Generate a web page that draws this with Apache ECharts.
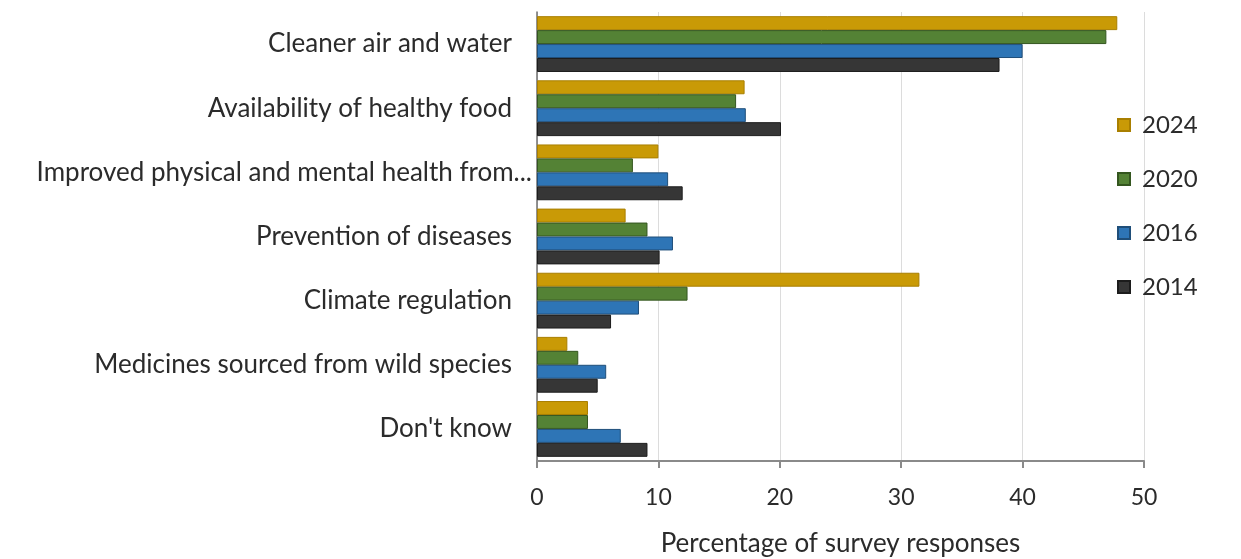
<!DOCTYPE html>
<html>
<head>
<meta charset="utf-8">
<script src="https://cdn.jsdelivr.net/npm/echarts@6/dist/echarts.min.js"></script>
<style>
  html, body { margin: 0; padding: 0; background: #ffffff; }
  #chart { width: 1241px; height: 559px; }
</style>
</head>
<body>
<div id="chart"></div>
<script>
// Benefits of nature, share of survey responses (%)
const categories = [
  'Cleaner air and water',
  'Availability of healthy food',
  'Improved physical and mental health from...',
  'Prevention of diseases',
  'Climate regulation',
  'Medicines sourced from wild species',
  "Don't know"
];
const years = ['2024', '2020', '2016', '2014'];
const values2024 = [47.8, 17.1, 10.0, 7.3, 31.5, 2.5, 4.2];
const values2020 = [46.9, 16.4, 7.9, 9.1, 12.4, 3.4, 4.2];
const values2016 = [40.0, 17.2, 10.8, 11.2, 8.4, 5.7, 6.9];
const values2014 = [38.1, 20.1, 12.0, 10.1, 6.1, 5.0, 9.1];
const xTicks = [0, 10, 20, 30, 40, 50];

const seriesValues = [values2024, values2020, values2016, values2014];
const colors = ['#C99A06', '#548235', '#2E75B6', '#363636'];
const borders = ['#A97F00', '#34561F', '#1F4E79', '#1c1c1c'];

const FONT = 'Lato';
const TEXT = '#2b2b2b';

const chart = echarts.init(document.getElementById('chart'), null, { renderer: 'canvas' });

chart.setOption({
  animation: false,
  backgroundColor: '#ffffff',
  textStyle: { fontFamily: FONT, color: TEXT },
  legend: {
    orient: 'vertical',
    left: 1112,
    top: 108,
    itemWidth: 12,
    itemHeight: 12,
    itemGap: 30,
    icon: 'rect',
    data: years,
    textStyle: { fontFamily: FONT, fontSize: 24, color: TEXT, lineHeight: 24, padding: [0, 0, 0, 7] }
  },
  grid: { left: 537, right: 97, top: 12, bottom: 98, containLabel: false, outerBoundsMode: 'none' },
  xAxis: {
    type: 'value',
    min: xTicks[0],
    max: xTicks[xTicks.length - 1],
    interval: 10,
    name: 'Percentage of survey responses',
    nameLocation: 'middle',
    nameGap: 70,
    nameTextStyle: { fontFamily: FONT, fontSize: 26, color: TEXT },
    axisLine: { show: true, lineStyle: { color: '#8a8a8a', width: 2 } },
    axisTick: { show: true, length: 7, lineStyle: { color: '#8a8a8a', width: 2 } },
    axisLabel: { fontFamily: FONT, fontSize: 23, color: TEXT, margin: 25 },
    splitLine: { show: true, lineStyle: { color: '#dcdcdc', width: 1 } }
  },
  yAxis: {
    type: 'category',
    inverse: true,
    data: categories,
    axisLine: { show: true, lineStyle: { color: '#6f6f6f', width: 1.5 } },
    axisTick: { show: false },
    axisLabel: {
      margin: 5,
      formatter: function (v) {
        return v.endsWith('...') ? '{long|' + v + '}' : '{std|' + v + '}';
      },
      rich: {
        std: { fontFamily: FONT, fontSize: 26, color: TEXT, padding: [0, 20, 0, 0] },
        long: { fontFamily: FONT, fontSize: 26, color: TEXT, padding: [0, 0, 0, 0] }
      }
    }
  },
  series: years.map(function (y, i) {
    return {
      name: y,
      type: 'bar',
      data: seriesValues[i],
      barGap: '0%',
      barCategoryGap: '13%',
      itemStyle: { color: colors[i], borderColor: borders[i], borderWidth: 1 }
    };
  })
});
</script>
</body>
</html>
